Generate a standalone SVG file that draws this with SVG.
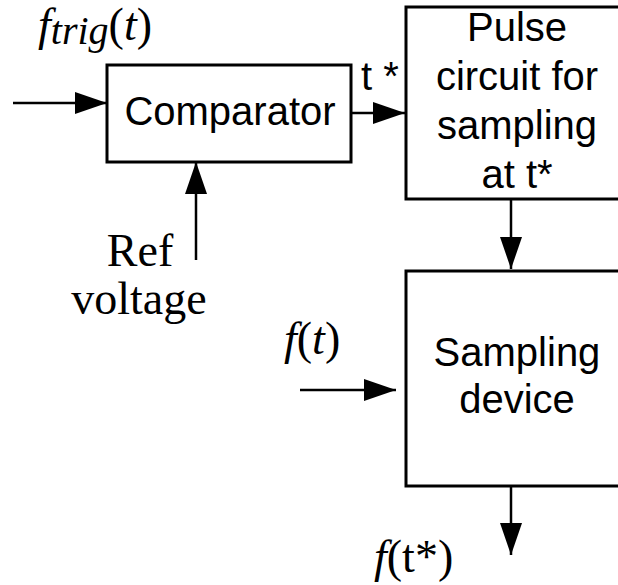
<svg xmlns="http://www.w3.org/2000/svg" width="618" height="585" viewBox="0 0 618 585">
<defs>
<style>
.box{fill:#fff;stroke:#000;stroke-width:3}
.ln{stroke:#000;stroke-width:2.5;fill:none}
.sans{font-family:"Liberation Sans",Arial,sans-serif;font-size:40px;fill:#000}
.serif{font-family:"Liberation Serif","Times New Roman",serif;font-size:46px;fill:#000}
</style>
<marker id="ah" markerUnits="userSpaceOnUse" markerWidth="32" markerHeight="22" refX="32" refY="11" orient="auto">
<path d="M0,0 L32,11 L0,22 Z" fill="#000"/>
</marker>
</defs>
<rect width="618" height="585" fill="#fff"/>
<g id="connectors">
<line class="ln" x1="13" y1="103" x2="107" y2="103" marker-end="url(#ah)"/>
<line class="ln" x1="351" y1="113" x2="405" y2="113" marker-end="url(#ah)"/>
<line class="ln" x1="196" y1="260" x2="196" y2="162" marker-end="url(#ah)"/>
<line class="ln" x1="511" y1="199" x2="511" y2="269" marker-end="url(#ah)"/>
<line class="ln" x1="300" y1="390" x2="396" y2="390" marker-end="url(#ah)"/>
<line class="ln" x1="511" y1="486" x2="511" y2="555" marker-end="url(#ah)"/>
</g>
<g id="comparator">
<rect class="box" x="107" y="65" width="244" height="97"/>
<text class="sans" x="230" y="125" text-anchor="middle">Comparator</text>
</g>
<g id="pulse">
<rect class="box" x="406" y="7" width="230" height="192"/>
<text class="sans" x="517" y="41" text-anchor="middle">Pulse</text>
<text class="sans" x="517" y="90" text-anchor="middle">circuit for</text>
<text class="sans" x="517" y="139" text-anchor="middle">sampling</text>
<text class="sans" x="517" y="188" text-anchor="middle">at t*</text>
</g>
<g id="sampling">
<rect class="box" x="406" y="271" width="230" height="215"/>
<text class="sans" x="517" y="366" text-anchor="middle">Sampling</text>
<text class="sans" x="517" y="413" text-anchor="middle">device</text>
</g>
<g id="labels">
<text class="serif" x="38" y="40" font-size="48"><tspan font-style="italic">f</tspan><tspan font-style="italic" font-size="40" dy="4">trig</tspan><tspan dy="-4">(</tspan><tspan font-style="italic">t</tspan><tspan>)</tspan></text>
<text class="sans" x="361" y="90">t *</text>
<text class="serif" x="140" y="266" text-anchor="middle">Ref</text>
<text class="serif" x="139" y="314" text-anchor="middle">voltage</text>
<text class="serif" x="284" y="354" font-size="62"><tspan font-style="italic">f</tspan>(<tspan font-style="italic">t</tspan>)</text>
<text class="serif" x="374" y="572" font-size="52"><tspan font-style="italic">f</tspan>(t*)</text>
</g>
</svg>
